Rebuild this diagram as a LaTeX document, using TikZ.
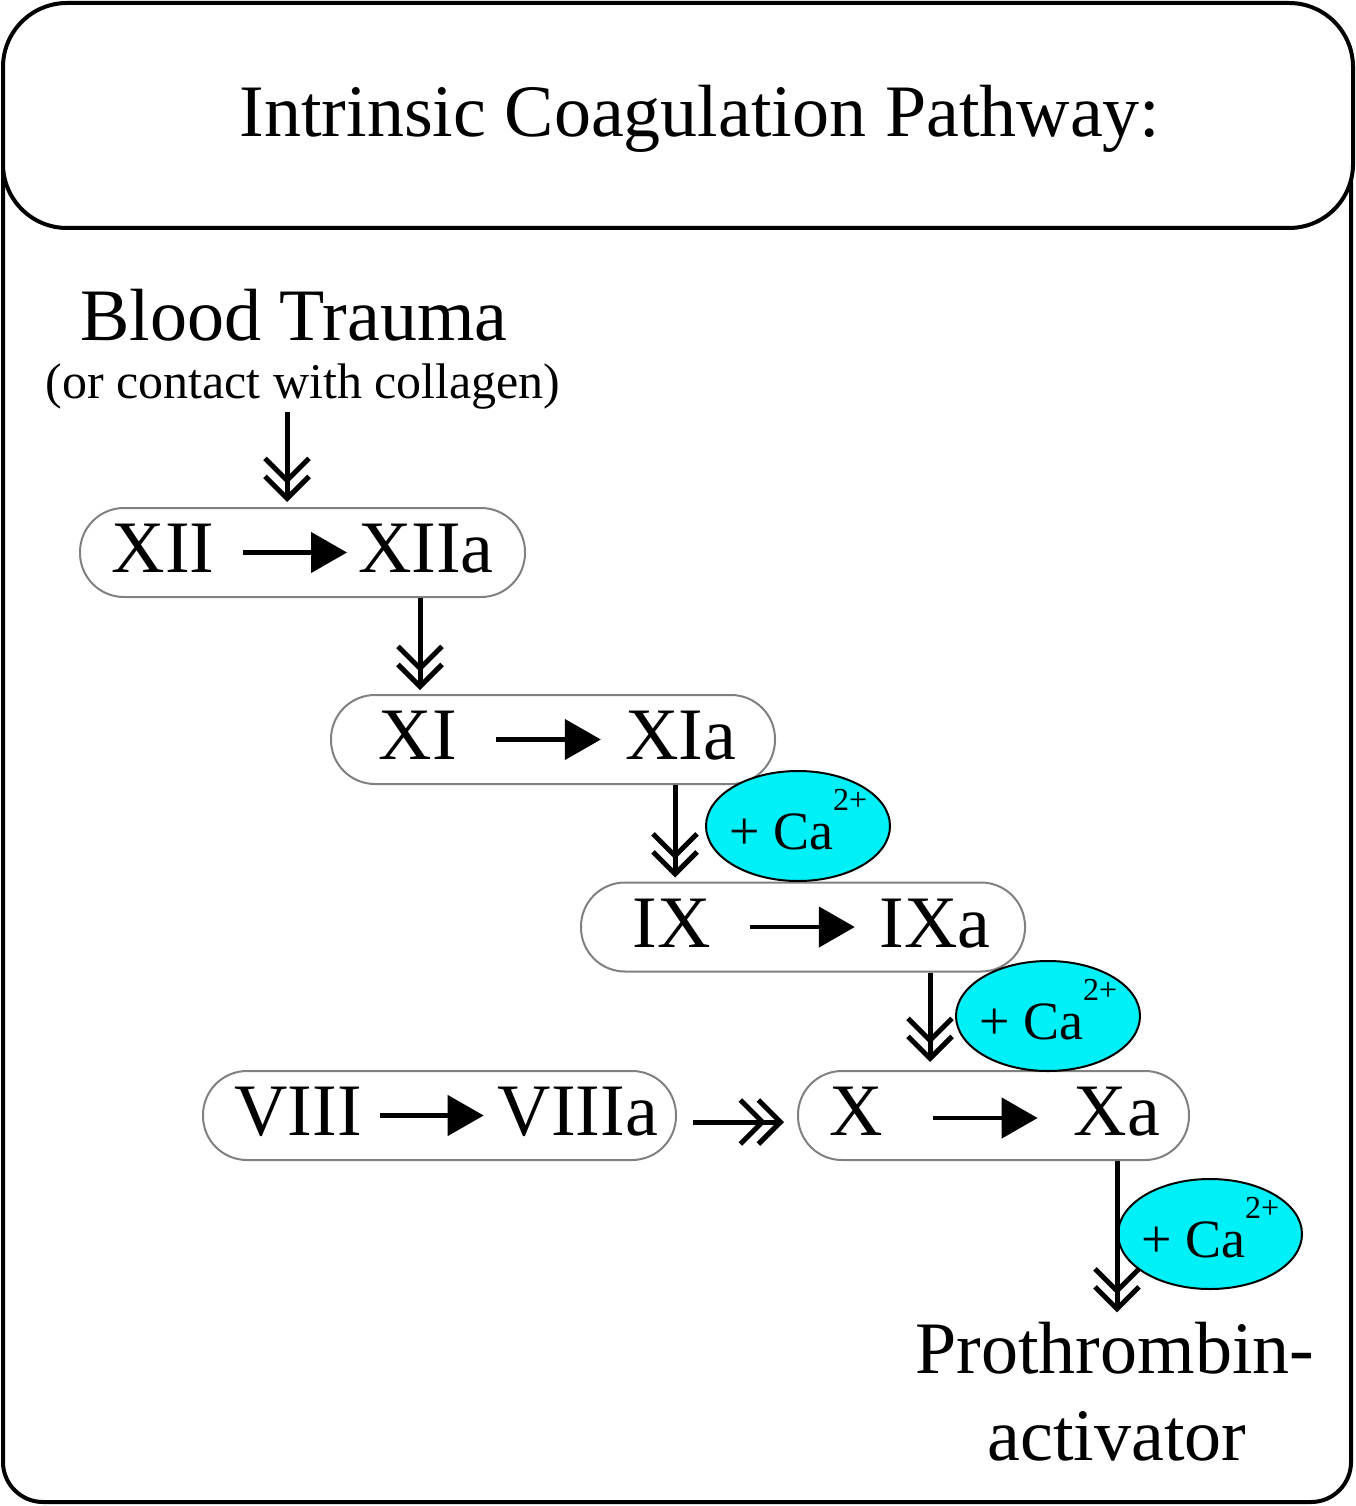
\documentclass[tikz,border=0pt]{standalone}
\usepackage{fontspec}
\setmainfont{Liberation Serif}
\usetikzlibrary{arrows.meta,shapes.geometric}
\definecolor{caaqua}{RGB}{0,240,248}
\definecolor{pillgray}{RGB}{128,128,128}
\begin{document}
\begin{tikzpicture}[x=1pt,y=-1pt,
 big/.style={font=\fontsize{74}{80}\selectfont, inner sep=0pt, anchor=base},
 small/.style={font=\fontsize{50}{56}\selectfont, inner sep=0pt, anchor=base},
 pill/.style={draw=pillgray, line width=2pt, rounded corners=44pt, minimum height=89pt, inner sep=0pt},
 rxn/.style={line width=4.5pt, -{Triangle[length=36pt,width=40pt]}},
 dbl/.style={line width=5pt, -{Straight Barb[length=22pt,width=44pt,sep=-10pt]Straight Barb[length=22pt,width=44pt]}},
 caell/.style={ellipse, draw, line width=2pt, fill=caaqua, minimum width=184pt, minimum height=110pt, inner sep=0pt},
 catext/.style={font=\fontsize{54}{54}\selectfont, inner sep=0pt, anchor=base west},
 frame/.style={draw, line width=4pt}]
\useasboundingbox (0,0) rectangle (1356,1506);
% outer frame and header
\draw[frame, rounded corners=40pt] (3,40) rectangle (1351,1502);
\draw[frame, fill=white, rounded corners=64pt] (3,3) rectangle (1353,228);
\node[big] (title) at (700,137) {Intrinsic Coagulation Pathway:};
% start text
\node[big] (bt) at (294,340) {Blood Trauma};
\node[small] (oc) at (303,398) {(or contact with collagen)};
% pills
\node[pill, minimum width=445pt] (p1) at (302.5,552.5) {};
\node[pill, minimum width=444pt] (p2) at (553,739.5) {};
\node[pill, minimum width=444pt] (p3) at (803,927) {};
\node[pill, minimum width=473pt] (p4) at (439.5,1115.5) {};
\node[pill, minimum width=391pt] (p5) at (993.5,1115.5) {};
% pill texts
\node[big] (xii) at (163,572) {XII};
\node[big] (xiia) at (426,572) {XIIa};
\node[big] (xi) at (418,759) {XI};
\node[big] (xia) at (681,759) {XIa};
\node[big] (ix) at (672,947) {IX};
\node[big] (ixa) at (935,947) {IXa};
\node[big] (viii) at (298,1135) {VIII};
\node[big] (viiia) at (578,1135) {VIIIa};
\node[big] (x) at (856,1135) {X};
\node[big] (xa) at (1117,1135) {Xa};
% reaction arrows
\draw[rxn, shorten <=28.6pt, shorten >=11pt] (xii.east |- p1.center) -- (xiia.west |- p1.center);
\draw[rxn, shorten <=39pt, shorten >=24.5pt] (xi.east |- p2.center) -- (xia.west |- p2.center);
\draw[rxn, shorten <=39pt, shorten >=24.5pt] (ix.east |- p3.center) -- (ixa.west |- p3.center);
\draw[rxn, shorten <=18.3pt, shorten >=14pt] (viii.east |- p4.center) -- (viiia.west |- p4.center);
\draw[rxn, shorten <=50pt, shorten >=36pt] (x.east |- 0,1118) -- (xa.west |- 0,1118);
% calcium ellipses
\node[caell] (ca1) at (798,826) {};
\node[caell] (ca2) at (1048,1016) {};
\node[caell] (ca3) at (1210,1234) {};
\node[catext] (ca1t) at (729,849) {+ Ca\raisebox{39pt}{\fontsize{32}{32}\selectfont 2+}};
\node[catext] (ca2t) at (979,1039) {+ Ca\raisebox{39pt}{\fontsize{32}{32}\selectfont 2+}};
\node[catext] (ca3t) at (1141,1257) {+ Ca\raisebox{39pt}{\fontsize{32}{32}\selectfont 2+}};
% end text
\node[big] (pa1) at (1115,1373) {Prothrombin-};
\node[big] (pa2) at (1117,1460) {activator};
% cascade arrows
\draw[dbl] ([yshift=-3pt]oc.south -| 287,0) -- ([yshift=5pt]p1.north -| 287,0);
\draw[dbl] (p1.south -| 420,0) -- ([yshift=4pt]p2.north -| 420,0);
\draw[dbl] (p2.south -| 675,0) -- ([yshift=4pt]p3.north -| 675,0);
\draw[dbl] (p3.south -| 930,0) -- ([yshift=8pt]p5.north -| 930,0);
\draw[dbl] ([xshift=16pt]p4.east |- 0,1122) -- ([xshift=-13pt]p5.west |- 0,1122);
\draw[dbl] (p5.south -| 1117,0) -- ([yshift=9pt]pa1.north -| 1117,0);
\end{tikzpicture}
\end{document}
